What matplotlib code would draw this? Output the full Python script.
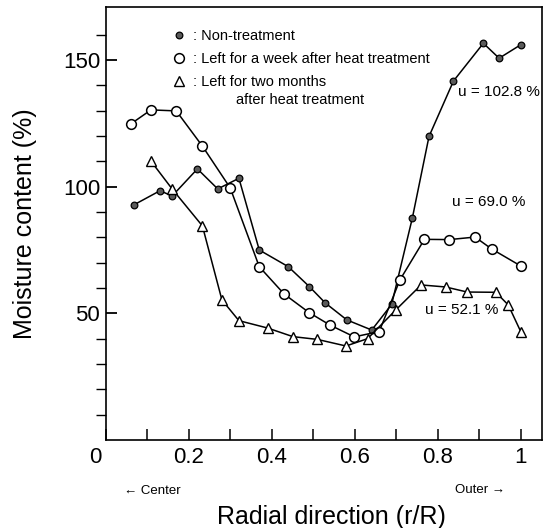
import numpy as np
import matplotlib
matplotlib.use('Agg')
import matplotlib.pyplot as plt
from matplotlib.transforms import ScaledTranslation

plt.rcParams['font.family'] = ['Liberation Sans', 'DejaVu Sans']

# non-treatment (filled circles)
x_non = [0.069, 0.131, 0.160, 0.221, 0.270, 0.321, 0.370, 0.440, 0.491, 0.529,
         0.581, 0.641, 0.689, 0.739, 0.779, 0.838, 0.910, 0.948, 1.0]
y_non = [92.9, 98.4, 96.3, 107.0, 99.1, 103.3, 75.0, 68.4, 60.5, 54.1,
         47.4, 43.4, 53.5, 87.7, 119.8, 141.7, 156.6, 150.7, 156.0]

# left for a week after heat treatment (open circles)
x_week = [0.060, 0.109, 0.170, 0.233, 0.300, 0.370, 0.430, 0.490, 0.540,
          0.599, 0.659, 0.709, 0.768, 0.828, 0.890, 0.930, 1.0]
y_week = [124.7, 130.3, 129.9, 116.0, 99.5, 68.4, 57.6, 50.3, 45.4,
          40.7, 42.8, 63.2, 79.2, 79.1, 80.1, 75.4, 68.7]

# left for two months after heat treatment (open triangles)
x_month = [0.108, 0.160, 0.233, 0.280, 0.321, 0.390, 0.451, 0.510, 0.579,
           0.631, 0.700, 0.760, 0.819, 0.871, 0.940, 0.970, 1.0]
y_month = [110.3, 99.1, 84.5, 55.3, 47.1, 44.2, 40.8, 39.7, 37.1,
           40.0, 51.5, 61.2, 60.4, 58.4, 58.3, 53.3, 42.8]

labels = [': Non-treatment',
          ': Left for a week after heat treatment',
          ': Left for two months']
u_texts = ['u = 102.8 %', 'u = 69.0 %', 'u = 52.1 %']

fig = plt.figure(figsize=(5.44, 5.28), dpi=100)
ax = fig.add_axes([0.1943, 0.1667, 0.8015, 0.8195])

lw = 1.1
l1, = ax.plot(x_non, y_non, '-o', color='k', lw=lw, ms=4.8,
              mfc='#5a5a5a', mec='k', mew=0.9, label=labels[0])
l2, = ax.plot(x_week, y_week, '-o', color='k', lw=lw, ms=7,
              mfc='white', mec='k', mew=1.1, label=labels[1])
l3, = ax.plot(x_month, y_month, '-^', color='k', lw=lw, ms=6.5,
              mfc='white', mec='k', mew=1.0, label=labels[2])

ax.set_xlim(0, 1.0506)
ax.set_ylim(0, 170.8)

ax.set_xticks(np.arange(0, 1.01, 0.1))
ax.set_xticklabels(['0', '', '0.2', '', '0.4', '', '0.6', '', '0.8', '', '1'])
ax.set_yticks([50, 100, 150])
ax.set_yticks(np.arange(10, 161, 10), minor=True)
ax.tick_params(axis='both', direction='in', labelsize=16, width=1.1)
ax.tick_params(axis='x', length=8, pad=5)
ax.tick_params(axis='y', which='major', length=8, pad=4, width=1.3)
ax.tick_params(axis='y', which='minor', length=7.5, width=1.0)

# shift origin label a little to the left like in the original
zero = ax.get_xticklabels()[0]
zero.set_transform(zero.get_transform() + ScaledTranslation(-10 / 100, 0, fig.dpi_scale_trans))

for s in ax.spines.values():
    s.set_linewidth(1.2)

ax.set_xlabel('Radial direction (r/R)', fontsize=18)
ax.xaxis.set_label_coords(0.518, -0.150)
ax.set_ylabel('Moisture content (%)', fontsize=18)
ax.yaxis.set_label_coords(-0.158, 0.5)

leg = ax.legend(handles=[l1, l2, l3], loc='upper left', bbox_to_anchor=(0.1525, 0.950),
                frameon=False, fontsize=10.5, handlelength=1.0, handletextpad=0.42,
                labelspacing=0.62, borderpad=0, borderaxespad=0)
for h in leg.legend_handles:
    h.set_linestyle('none')
ax.text(0.313, 134.1, 'after heat treatment', fontsize=10.5, ha='left', va='center')

ax.text(0.849, 137.4, u_texts[0], fontsize=11, ha='left', va='center')
ax.text(0.834, 94.1, u_texts[1], fontsize=11, ha='left', va='center')
ax.text(0.769, 51.3, u_texts[2], fontsize=11, ha='left', va='center')

fig.text(152 / 544, 1 - 491.5 / 528, '\u2190 Center', fontsize=9.5, ha='center', va='center')
fig.text(480 / 544, 1 - 490 / 528, 'Outer \u2192', fontsize=9.5, ha='center', va='center')

fig.savefig('out.png', dpi=100)
